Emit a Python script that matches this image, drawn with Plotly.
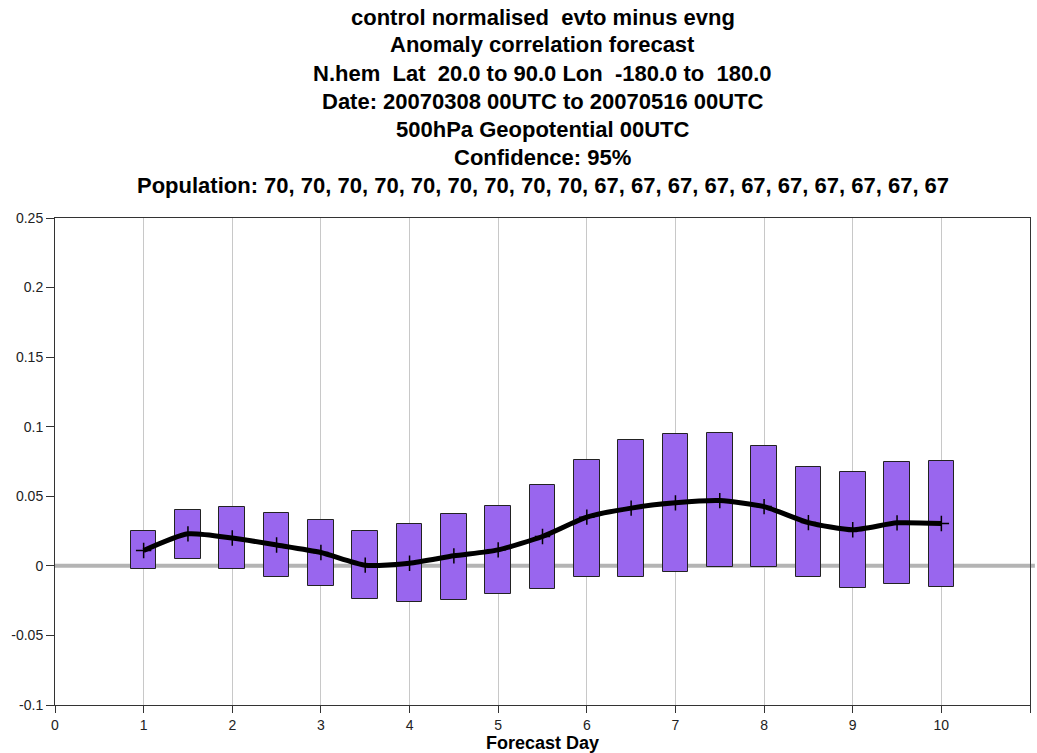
import plotly.graph_objects as go

# Forecast day positions (half-day steps)
days = [1.0, 1.5, 2.0, 2.5, 3.0, 3.5, 4.0, 4.5, 5.0, 5.5,
        6.0, 6.5, 7.0, 7.5, 8.0, 8.5, 9.0, 9.5, 10.0]

# Mean score difference (evto minus evng)
mean_diff = [0.011, 0.023, 0.020, 0.015, 0.0096, 0.0005, 0.0019, 0.0072, 0.0115, 0.0211,
             0.035, 0.0415, 0.0453, 0.0469, 0.0426, 0.0311, 0.0259, 0.0309, 0.0304]

# 95% confidence interval bounds
ci_upper = [0.0247, 0.0405, 0.0422, 0.0383, 0.0328, 0.0247, 0.0302, 0.0374, 0.0429, 0.058,
            0.0764, 0.0903, 0.0947, 0.0956, 0.086, 0.0709, 0.0671, 0.0747, 0.0757]
ci_lower = [-0.0022, 0.005, -0.0019, -0.0081, -0.0146, -0.0237, -0.0257, -0.0247, -0.0203, -0.0165,
            -0.0081, -0.0079, -0.0041, -0.0009, -0.0009, -0.0077, -0.016, -0.0129, -0.0149]

x_ticks = list(range(0, 12))
y_ticks = [-0.1, -0.05, 0, 0.05, 0.1, 0.15, 0.2, 0.25]
y_tick_text = ["-0.1", "-0.05", "0", "0.05", "0.1", "0.15", "0.2", "0.25"]

title_lines = [
    "control normalised  evto minus evng",
    "Anomaly correlation forecast",
    "N.hem  Lat  20.0 to 90.0 Lon  -180.0 to  180.0",
    "Date: 20070308 00UTC to 20070516 00UTC",
    "500hPa Geopotential 00UTC",
    "Confidence: 95%",
    "Population: 70, 70, 70, 70, 70, 70, 70, 70, 70, 67, 67, 67, 67, 67, 67, 67, 67, 67, 67",
]

FONT = "Liberation Sans, Arial, sans-serif"

fig = go.Figure()

# zero reference line
fig.add_shape(type="line", xref="paper", yref="y", x0=0, x1=1.005, y0=0, y1=0,
              line=dict(color="#b4b4b4", width=4), layer="below")

# confidence interval boxes
fig.add_trace(go.Bar(
    x=days,
    base=ci_lower,
    y=[u - l for u, l in zip(ci_upper, ci_lower)],
    width=0.29,
    marker=dict(color="#9966ee", line=dict(color="#222222", width=1)),
    hoverinfo="skip",
    showlegend=False,
))

# mean difference curve
fig.add_trace(go.Scatter(
    x=days, y=mean_diff,
    mode="lines+markers",
    line=dict(color="black", width=5, shape="spline", smoothing=0.6),
    marker=dict(symbol="cross-thin", size=11, line=dict(color="black", width=1.5)),
    showlegend=False,
))

plot_top, plot_bottom = 218, 705
plot_h = plot_bottom - plot_top
line_centres = [18, 45, 73, 101, 129, 157, 186]
for txt, yc in zip(title_lines, line_centres):
    fig.add_annotation(
        text="<b>%s</b>" % txt, xref="paper", yref="paper",
        x=0.5, y=(plot_bottom - yc) / plot_h, xanchor="center", yanchor="middle",
        showarrow=False, font=dict(family=FONT, size=22, color="black"),
    )

fig.update_layout(
    width=1037, height=753,
    margin=dict(l=55, r=7, t=plot_top, b=753 - plot_bottom),
    paper_bgcolor="white", plot_bgcolor="white",
    bargap=0,
    font=dict(family=FONT, size=14, color="#222222"),
    xaxis=dict(
        range=[0, 11], tickvals=x_ticks, ticktext=[str(v) for v in x_ticks],
        showgrid=True, gridcolor="#c8c8c8", gridwidth=1,
        showline=True, linecolor="#333333", linewidth=1, mirror=True,
        ticks="outside", ticklen=7, tickcolor="#333333",
        zeroline=False,
        title=dict(text="<b>Forecast Day</b>", font=dict(family=FONT, size=18, color="black"),
                   standoff=0),
    ),
    yaxis=dict(
        range=[-0.1, 0.25], tickvals=y_ticks, ticktext=y_tick_text,
        showgrid=False, zeroline=False,
        showline=True, linecolor="#333333", linewidth=1, mirror=True,
        ticks="outside", ticklen=8, tickcolor="#333333",
    ),
)

fig.write_html("out.html")
